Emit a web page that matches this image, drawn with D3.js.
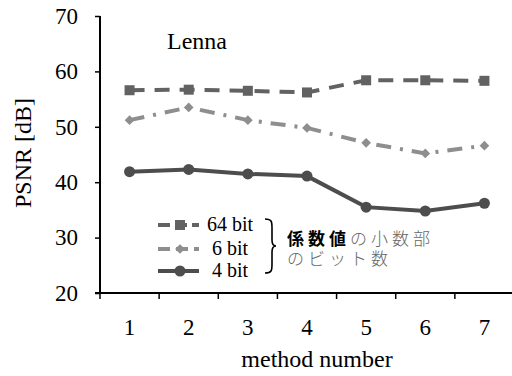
<!DOCTYPE html>
<html>
<head>
<meta charset="utf-8">
<script src="https://cdn.jsdelivr.net/npm/d3@7"></script>
<style>
  body { margin: 0; background: #fff; }
  svg { display: block; }
  text { font-family: "Liberation Serif", "Times New Roman", serif; }
</style>
</head>
<body>
<svg id="chart" width="512" height="376"></svg>
<script>
// values
var methods = ["1", "2", "3", "4", "5", "6", "7"];
var bit64 = [56.6, 56.7, 56.5, 56.2, 58.4, 58.4, 58.3];
var bit6 = [51.2, 53.5, 51.2, 49.8, 47.1, 45.2, 46.6];
var bit4 = [41.9, 42.3, 41.5, 41.1, 35.5, 34.8, 36.2];
var yTicks = [20, 30, 40, 50, 60, 70];
var seriesNames = ["64 bit", "6 bit", "4 bit"];

var svg = d3.select("#chart");
var plotL = 100, plotT = 16, plotR = 514, plotB = 293;
var serif = '"Liberation Serif", "Times New Roman", serif';
var jpFont = '"Noto Sans CJK JP", sans-serif';

var x = d3.scaleBand().domain(methods).range([plotL, plotR]);
var y = d3.scaleLinear().domain([20, 70]).range([plotB, plotT]);

// y axis
var yAxis = svg.append("g")
  .attr("transform", "translate(" + plotL + ",0)")
  .call(d3.axisLeft(y).tickValues(yTicks).tickSize(5).tickPadding(17));
yAxis.attr("font-family", null).attr("font-size", null);
yAxis.select(".domain").attr("stroke", "#000").attr("stroke-width", 2).attr("d", "M0," + plotT + "V" + plotB);
yAxis.selectAll(".tick line").attr("stroke", "#000").attr("stroke-width", 1.5);
yAxis.selectAll(".tick text").style("font-size", "23px").style("font-family", serif).attr("fill", "#000");

// x axis
var xAxis = svg.append("g")
  .attr("transform", "translate(0," + plotB + ")")
  .call(d3.axisBottom(x).tickSize(0).tickPadding(26));
xAxis.attr("font-family", null).attr("font-size", null);
xAxis.select(".domain").attr("stroke", "#000").attr("stroke-width", 2).attr("d", "M" + (plotL - 5) + ",0H" + plotR);
xAxis.selectAll(".tick text").style("font-size", "23px").style("font-family", serif).attr("fill", "#000");
// tick marks between categories
xAxis.selectAll("line.sep").data(methods).enter().append("line")
  .attr("class", "sep")
  .attr("x1", function(d){ return x(d); }).attr("x2", function(d){ return x(d); })
  .attr("y1", 0).attr("y2", 6)
  .attr("stroke", "#000").attr("stroke-width", 1.5);

svg.append("text").attr("x", 317).attr("y", 367).attr("text-anchor", "middle")
  .style("font-size", "24px").text("method number");
svg.append("text").attr("transform", "translate(31,153) rotate(-90)").attr("text-anchor", "middle")
  .style("font-size", "24px").text("PSNR [dB]");

svg.append("text").attr("x", 167).attr("y", 49).style("font-size", "24px").text("Lenna");

var cx = function(i){ return x(methods[i]) + x.bandwidth() / 2; };
var line = d3.line().x(function(d, i){ return cx(i); }).y(function(d){ return y(d); });

var styles = [
  { data: bit64, color: "#626262", dash: "15,10", marker: "square" },
  { data: bit6, color: "#8e8e8e", dash: "15,9,3,9", marker: "diamond" },
  { data: bit4, color: "#4d4d4d", dash: null, marker: "circle" }
];

function drawMarker(g, kind, px, py, color) {
  if (kind === "square") {
    g.append("rect").attr("x", px - 5).attr("y", py - 5).attr("width", 10).attr("height", 10).attr("fill", color);
  } else if (kind === "diamond") {
    g.append("path").attr("d", d3.symbol().type(d3.symbolDiamond2).size(60)()).attr("transform", "translate(" + px + "," + py + ")").attr("fill", color);
  } else {
    g.append("circle").attr("cx", px).attr("cy", py).attr("r", 5.5).attr("fill", color);
  }
}

styles.forEach(function(s) {
  var g = svg.append("g");
  g.append("path").datum(s.data).attr("d", line)
    .attr("fill", "none").attr("stroke", s.color).attr("stroke-width", 4)
    .attr("stroke-dasharray", s.dash);
  s.data.forEach(function(v, i){ drawMarker(g, s.marker, cx(i), y(v), s.color); });
});

// legend
var legY = [225, 249, 271];
styles.forEach(function(s, i) {
  var g = svg.append("g");
  g.append("line").attr("x1", 158).attr("x2", 199).attr("y1", legY[i]).attr("y2", legY[i])
    .attr("stroke", s.color).attr("stroke-width", 4)
    .attr("stroke-dasharray", i === 0 ? "12,5" : (i === 1 ? "12,6" : null));
  drawMarker(g, s.marker, 180, legY[i], s.color);
  g.append("text").attr("x", 230).attr("y", legY[i] + 6).attr("text-anchor", "middle")
    .style("font-family", serif).style("font-size", "20px").text(seriesNames[i]);
});

// brace
svg.append("path")
  .attr("d", "M265,219 C272,219 272,222 272,228 L272,240 C272,244 273,246 276,246 C273,246 272,248 272,252 L272,264 C272,270 272,273 265,273")
  .attr("fill", "none").attr("stroke", "#000").attr("stroke-width", 1.6);

// japanese note, one text per run so the spacing stays put
var jpLines = [
  { x: 287, y: 245, t: "係数値", w: "bold", c: "#000" },
  { x: 350, y: 245, t: "の小数部", w: "300", c: "#666" },
  { x: 287, y: 265, t: "のビット数", w: "300", c: "#666" }
];
jpLines.forEach(function(d) {
  svg.append("text").attr("x", d.x).attr("y", d.y)
    .style("font-family", jpFont).style("font-size", "17px").style("letter-spacing", "4px")
    .attr("font-weight", d.w).attr("fill", d.c).text(d.t);
});
</script>
</body>
</html>
